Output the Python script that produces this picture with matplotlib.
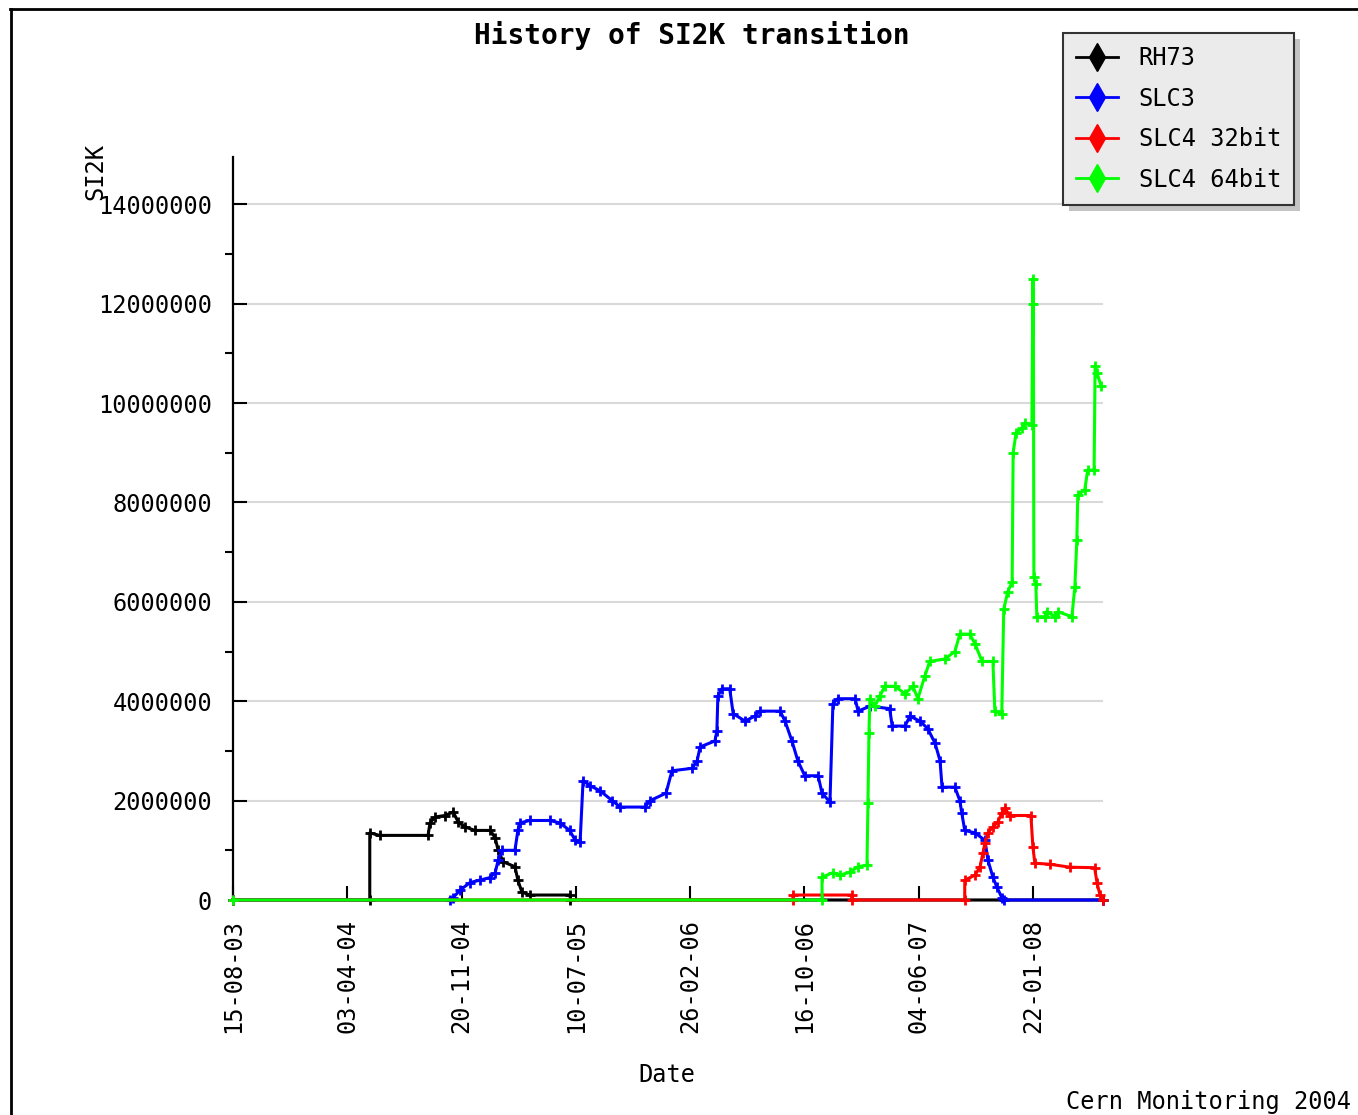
import datetime as dt

import matplotlib
matplotlib.use('Agg')
import matplotlib.pyplot as plt
from matplotlib.lines import Line2D
from matplotlib.patches import Rectangle
from matplotlib.ticker import FixedLocator, MultipleLocator, FuncFormatter

# time axis: days since start, ticks every 2e7 seconds
start = dt.datetime(2003, 8, 15, 18)
tick_step = 2e7 / 86400.0
x_end = 1762

# RH73
rh73_days = [0, 277, 277, 297, 395, 399, 409, 429, 446, 456, 470, 490, 521, 531,
             537, 547, 571, 577, 585, 601, 683, 683, 1762]
rh73_vals = [0, 0, 1.35, 1.3, 1.3, 1.55, 1.67, 1.7, 1.77, 1.57, 1.47, 1.4, 1.4, 1.25,
             1.0, 0.77, 0.67, 0.4, 0.16, 0.1, 0.1, 0, 0]

# SLC3
slc3_days = [0, 440, 446, 460, 480, 500, 520, 531, 537, 545, 571, 577, 581, 601, 642,
             662, 682, 693, 703, 709, 723, 743, 768, 784, 834, 845, 877, 889, 930,
             940, 946, 976, 980, 982, 990, 1006, 1013, 1037, 1057, 1067, 1108, 1118,
             1132, 1144, 1158, 1185, 1193, 1209, 1215, 1225, 1260, 1266, 1290, 1330,
             1335, 1361, 1371, 1391, 1407, 1422, 1432, 1436, 1462, 1472, 1476, 1482,
             1503, 1523, 1529, 1539, 1547, 1557, 1561, 1762]
slc3_vals = [0, 0, 0.05, 0.2, 0.35, 0.4, 0.45, 0.55, 0.8, 1.0, 1.0, 1.4, 1.55, 1.6, 1.6,
             1.55, 1.4, 1.2, 1.17, 2.4, 2.3, 2.2, 2.0, 1.87, 1.87, 2.0, 2.15, 2.6, 2.65,
             2.8, 3.08, 3.2, 3.4, 4.1, 4.25, 4.25, 3.75, 3.6, 3.7, 3.8, 3.8, 3.6,
             3.2, 2.8, 2.5, 2.5, 2.15, 1.97, 3.95, 4.05, 4.05, 3.8, 3.9, 3.85,
             3.5, 3.5, 3.7, 3.6, 3.45, 3.15, 2.8, 2.27, 2.27, 2.0, 1.75, 1.4,
             1.35, 1.2, 0.8, 0.46, 0.26, 0.05, 0, 0]

# SLC4 32bit
slc4_32_days = [0, 1134, 1134, 1253, 1253, 1482, 1482, 1503, 1513, 1519, 1523, 1529,
                1539, 1549, 1557, 1563, 1573, 1616, 1620, 1624, 1654, 1695, 1745,
                1750, 1756, 1762]
slc4_32_vals = [0, 0, 0.1, 0.1, 0, 0, 0.4, 0.5, 0.67, 0.95, 1.15, 1.35,
                1.47, 1.57, 1.75, 1.85, 1.7, 1.7, 1.07, 0.74, 0.72, 0.66, 0.65,
                0.34, 0.1, 0]

# SLC4 64bit
slc4_64_days = [0, 1193, 1193, 1215, 1229, 1249, 1266, 1284, 1286, 1288, 1290, 1300,
                1310, 1320, 1341, 1361, 1377, 1387, 1401, 1411, 1442, 1462, 1472,
                1492, 1503, 1517, 1539, 1543, 1557, 1561, 1569, 1578, 1580, 1586,
                1598, 1604, 1618, 1620, 1621, 1622, 1626, 1628, 1644, 1648, 1665,
                1671, 1699, 1705, 1709, 1711, 1725, 1731, 1744, 1746, 1750, 1758]
slc4_64_vals = [0, 0, 0.46, 0.55, 0.5, 0.56, 0.67, 0.7, 1.95, 3.36, 4.05, 3.9,
                4.1, 4.3, 4.3, 4.15, 4.3, 4.05, 4.5, 4.8, 4.85, 5.0, 5.35,
                5.35, 5.15, 4.8, 4.8, 3.8, 3.75, 5.85, 6.2, 6.4, 9.0, 9.4,
                9.5, 9.6, 9.55, 12.5, 12.0, 6.5, 6.35, 5.7, 5.7, 5.8, 5.7,
                5.8, 5.7, 6.3, 7.25, 8.15, 8.25, 8.65, 8.65, 10.75, 10.6, 10.35]

series = [
    ('RH73', rh73_days, rh73_vals, 'black'),
    ('SLC3', slc3_days, slc3_vals, 'blue'),
    ('SLC4 32bit', slc4_32_days, slc4_32_vals, 'red'),
    ('SLC4 64bit', slc4_64_days, slc4_64_vals, '#00ff00'),
]

plt.rcParams['font.family'] = 'DejaVu Sans Mono'
fs = 17

fig = plt.figure(figsize=(13.58, 11.15), dpi=100)
ax = fig.add_axes([233 / 1358, 1 - 900 / 1115, 870 / 1358, 743 / 1115])
ax.patch.set_visible(False)

# lines sit on top of the axis spines so the zero baseline shows in colour
for name, days, vals, col in series:
    ax.plot(days, [v * 1e6 for v in vals], color=col, lw=2.2,
            marker='+', ms=7, mew=2.0, zorder=3, clip_on=False)

ax.set_xlim(0, x_end)
ax.set_ylim(0, 14.95e6)

ax.xaxis.set_major_locator(FixedLocator([k * tick_step for k in range(8)]))
ax.xaxis.set_major_formatter(FuncFormatter(
    lambda d, pos: (start + dt.timedelta(days=d)).strftime('%d-%m-%y')))
ax.yaxis.set_major_locator(MultipleLocator(2e6))
ax.yaxis.set_minor_locator(MultipleLocator(1e6))
ax.yaxis.set_major_formatter(FuncFormatter(lambda v, pos: '%d' % v))

ax.tick_params(axis='both', direction='in', labelsize=fs, width=1.5, color='black')
ax.tick_params(axis='x', length=10, pad=14, labelrotation=90)
ax.tick_params(axis='y', which='major', length=10, pad=15)
ax.tick_params(axis='y', which='minor', length=6, width=1.5)

ax.grid(axis='y', which='major', color='#d9d9d9', lw=1.5)
ax.set_axisbelow(True)
for side in ('top', 'right'):
    ax.spines[side].set_visible(False)
for side in ('left', 'bottom'):
    ax.spines[side].set_linewidth(1.6)
    ax.spines[side].set_zorder(1)

fig.text(667 / 1358, 1 - 1075 / 1115, 'Date', fontsize=fs, ha='center', va='center')
fig.text(95 / 1358, 1 - 172 / 1115, 'SI2K', rotation=90, fontsize=fs,
         ha='center', va='center')
fig.text(692 / 1358, 1 - 36 / 1115, 'History of SI2K transition', fontsize=20,
         fontweight='bold', ha='center', va='center')
fig.text(1066 / 1358, 1 - 1102 / 1115, 'Cern Monitoring 2004', fontsize=fs,
         ha='left', va='center')

handles = [Line2D([], [], color=col, lw=2.0, marker='d', ms=14)
           for name, days, vals, col in series]
leg = ax.legend(handles, [s[0] for s in series], loc='upper left',
                bbox_to_anchor=(1063 / 1358, 1 - 33 / 1115),
                bbox_transform=fig.transFigure, borderaxespad=0,
                fontsize=fs, fancybox=False, framealpha=1,
                facecolor='#ebebeb', edgecolor='#333333',
                handlelength=1.8, handletextpad=0.85, labelspacing=0.7,
                borderpad=0.55)
leg.get_frame().set_linewidth(1.5)
leg.set_zorder(5)

# grey drop shadow behind the legend box
fig.canvas.draw()
bb = leg.get_window_extent().transformed(fig.transFigure.inverted())
fig.add_artist(Rectangle((bb.x0 + 6 / 1358, bb.y0 - 6 / 1115), bb.width, bb.height,
                         transform=fig.transFigure, facecolor='#c4c4c4',
                         edgecolor='none', zorder=-1))

# frame round the figure
fig.add_artist(Line2D([10 / 1358, 1], [1 - 9 / 1115] * 2, color='black', lw=2,
                      transform=fig.transFigure))
fig.add_artist(Line2D([11 / 1358] * 2, [0, 1 - 9 / 1115], color='black', lw=2,
                      transform=fig.transFigure))

fig.savefig('out.png', dpi=100)
